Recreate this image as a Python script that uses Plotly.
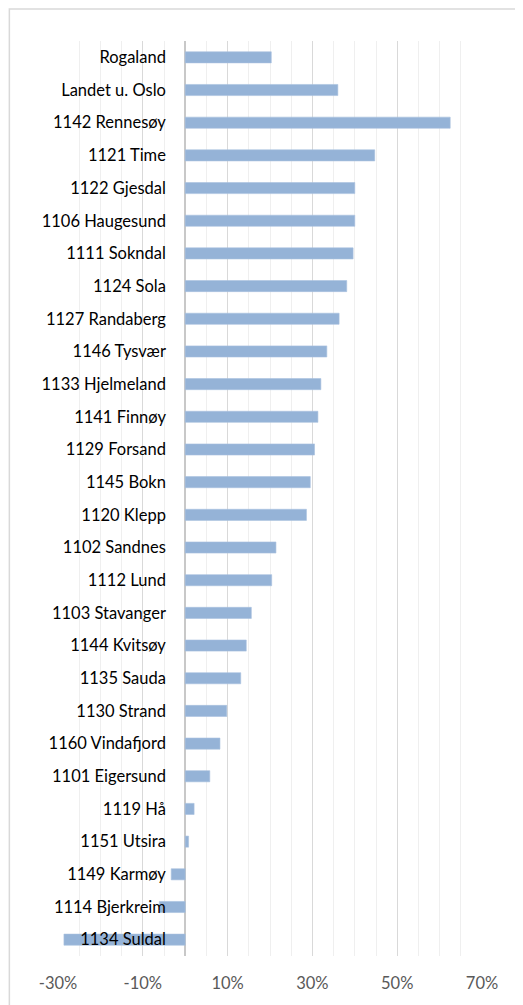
import plotly.graph_objects as go

categories = [
    "Rogaland", "Landet u. Oslo", "1142 Rennesøy", "1121 Time", "1122 Gjesdal",
    "1106 Haugesund", "1111 Sokndal", "1124 Sola", "1127 Randaberg", "1146 Tysvær",
    "1133 Hjelmeland", "1141 Finnøy", "1129 Forsand", "1145 Bokn", "1120 Klepp",
    "1102 Sandnes", "1112 Lund", "1103 Stavanger", "1144 Kvitsøy", "1135 Sauda",
    "1130 Strand", "1160 Vindafjord", "1101 Eigersund", "1119 Hå", "1151 Utsira",
    "1149 Karmøy", "1114 Bjerkreim", "1134 Suldal",
]
values = [
    20.3, 36.0, 62.5, 44.7, 40.0,
    40.0, 39.6, 38.1, 36.3, 33.4,
    32.0, 31.3, 30.5, 29.5, 28.6,
    21.4, 20.4, 15.6, 14.4, 13.1,
    9.8, 8.2, 5.8, 2.1, 0.8,
    -3.3, -6.1, -28.6,
]
x_ticks = [-30, -10, 10, 30, 50, 70]

OFF = 8  # default page body margin
W, H = 523 - OFF, 1005 - OFF
L, R, T, B = 57.7 - OFF, 482.3 - OFF, 40.6 - OFF, 958.7 - OFF

fig = go.Figure(go.Bar(
    x=values, y=categories, orientation="h",
    marker=dict(color="#95B3D7", line=dict(color="#A9C1DF", width=0.6)),
    width=0.34,
))

fig.update_layout(
    width=W, height=H,
    margin=dict(l=L, r=W - R, t=T, b=H - B, pad=0),
    paper_bgcolor="white", plot_bgcolor="white",
    font=dict(family="Lato", size=16.5, color="#000000"),
    showlegend=False,
    xaxis=dict(
        range=[-30, 70], tickvals=x_ticks,
        ticktext=[f"{v}%" for v in x_ticks],
        tickfont=dict(color="#595959", size=16.5),
        showgrid=True, gridcolor="#D9D9D9", gridwidth=1.3,
        minor=dict(dtick=5, tick0=0, showgrid=True, gridcolor="#EFEFEF", gridwidth=1.3),
        zeroline=True, zerolinecolor="#C8C8C8", zerolinewidth=1.6,
        showline=False, ticks="outside", ticklen=12, tickcolor="rgba(0,0,0,0)",
        fixedrange=True,
    ),
    yaxis=dict(
        type="category", categoryorder="array", categoryarray=categories,
        autorange="reversed",
        anchor="free", position=0.3, side="left",
        showgrid=False, zeroline=False, showline=False,
        ticks="outside", ticklen=16, tickcolor="rgba(0,0,0,0)",
        tickfont=dict(color="#000000", size=16.5),
    ),
    shapes=[dict(
        type="rect", xref="paper", yref="paper",
        x0=(9 - OFF - L) / (R - L), x1=(560 - L) / (R - L),
        y0=(B - 1040) / (B - T), y1=(B - (8.5 - OFF)) / (B - T),
        line=dict(color="#D9D9D9", width=1.5), fillcolor="rgba(0,0,0,0)",
        layer="below",
    )],
)

fig.write_html("out.html")
